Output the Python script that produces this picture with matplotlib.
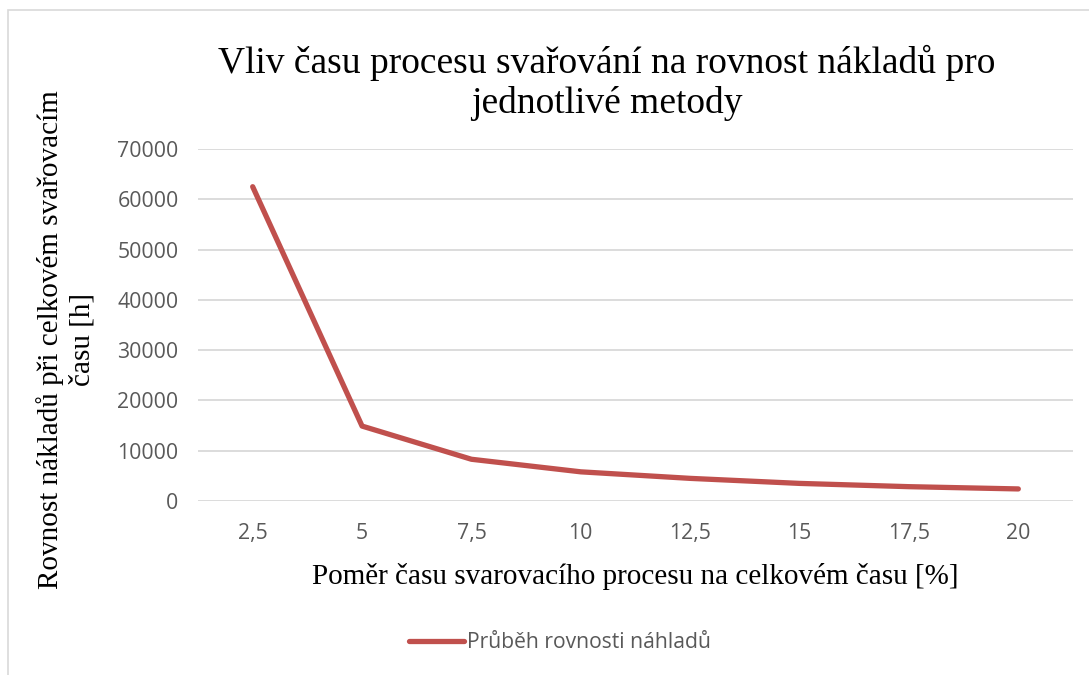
import matplotlib
matplotlib.use("Agg")
import matplotlib.pyplot as plt
from matplotlib.patches import Rectangle

# --- DATA ---
categories = ["2,5", "5", "7,5", "10", "12,5", "15", "17,5", "20"]
rovnost = [62500, 14900, 8300, 5800, 4500, 3500, 2850, 2400]
y_ticks = [0, 10000, 20000, 30000, 40000, 50000, 60000, 70000]

title = "Vliv času procesu svařování na rovnost nákladů pro\njednotlivé metody"
x_label = "Poměr času svarovacího procesu na celkovém času [%]"
y_label = "Rovnost nákladů při celkovém svařovacím\nčasu [h]"
series_name = "Průběh rovnosti náhladů"

# --- STYLE ---
LINE_RED = "#C0504D"
GRID_GREY = "#D9D9D9"
TEXT_GREY = "#595959"
SERIF = "Liberation Serif"
SANS = "Open Sans"

W, H = 1089, 675
fig = plt.figure(figsize=(W / 100, H / 100), dpi=100)

# outer chart frame
fig.patches.append(Rectangle((8 / W, -0.05), 1.1, 1 - 10 / H + 0.05,
                             transform=fig.transFigure, fill=False,
                             edgecolor=GRID_GREY, linewidth=1.2))

ax = fig.add_axes([198 / W, 1 - 501 / H, 875 / W, 352 / H])

x = list(range(len(categories)))
ax.plot(x, rovnost, color=LINE_RED, linewidth=3.8,
        solid_capstyle="round", solid_joinstyle="round",
        label=series_name, zorder=3)

ax.set_xlim(-0.5, len(categories) - 0.5)
ax.set_ylim(0, 70000)
ax.set_xticks(x)
ax.set_xticklabels(categories)
ax.set_yticks(y_ticks)
ax.set_yticklabels([str(v) for v in y_ticks])

ax.grid(axis="y", color=GRID_GREY, linewidth=1.3)
ax.set_axisbelow(True)
for side in ["top", "right", "left", "bottom"]:
    ax.spines[side].set_visible(False)
ax.tick_params(axis="both", length=0, labelcolor=TEXT_GREY, labelsize=15.3)
ax.tick_params(axis="y", pad=14)
ax.tick_params(axis="x", pad=16)
for lbl in ax.get_xticklabels() + ax.get_yticklabels():
    lbl.set_fontfamily(SANS)

fig.text(607 / W, 1 - 83 / H, title, ha="center", va="center",
         fontsize=27, family=SERIF, linespacing=1.2)
fig.text(635 / W, 1 - 576 / H, x_label, ha="center", va="center",
         fontsize=21, family=SERIF)
fig.text(66 / W, 1 - 340 / H, y_label, ha="center", va="center",
         rotation=90, fontsize=21, family=SERIF, linespacing=1.3)

leg = fig.legend(loc="center", bbox_to_anchor=(560 / W, 1 - 643 / H),
                 frameon=False, handlelength=2.6, handletextpad=0.15,
                 prop={"family": SANS, "size": 15.2})
for t in leg.get_texts():
    t.set_color(TEXT_GREY)

fig.savefig("out.png", dpi=100, facecolor="white")
